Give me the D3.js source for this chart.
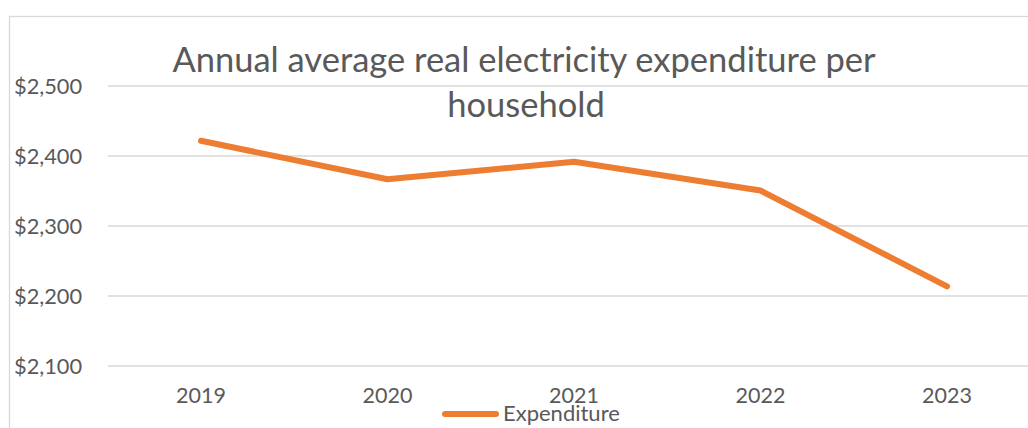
<!DOCTYPE html>
<html>
<head>
<meta charset="utf-8">
<script src="https://cdn.jsdelivr.net/npm/d3@7"></script>
<style>
  html, body { margin: 0; padding: 0; background: #fff; }
  svg { display: block; }
</style>
</head>
<body>
<svg id="chart" width="1028" height="428"></svg>
<script>
// Annual average real electricity expenditure per household
const years = ["2019", "2020", "2021", "2022", "2023"];
const expenditure = [2421, 2366, 2391, 2350, 2213];
const yTicks = [2100, 2200, 2300, 2400, 2500];
const titleLines = ["Annual average real electricity expenditure per", "household"];
const seriesName = "Expenditure";

const W = 1028, H = 428;
const font = "Lato, 'Open Sans', sans-serif";
const textColor = "#595959";
const gridColor = "#d9d9d9";
const lineColor = "#ED7D31";

const svg = d3.select("#chart");

// outer chart frame (extends past the visible area on right and bottom)
svg.append("rect")
  .attr("x", 9.5).attr("y", 16.5)
  .attr("width", W + 20).attr("height", H + 20)
  .attr("fill", "#fff")
  .attr("stroke", gridColor).attr("stroke-width", 1.3);

const plot = { left: 107.75, right: 1040.25, top: 85.5, bottom: 365.5 };

const x = d3.scaleBand().domain(years).range([plot.left, plot.right]);
const y = d3.scaleLinear().domain([2100, 2500]).range([plot.bottom, plot.top]);

// gridlines + y labels
const yAxis = d3.axisLeft(y)
  .tickValues(yTicks)
  .tickSize(-(plot.right - plot.left))
  .tickPadding(0)
  .tickFormat(d => "$" + d3.format(",")(d));

const gy = svg.append("g")
  .attr("transform", `translate(${plot.left},0)`)
  .call(yAxis);
gy.select(".domain").remove();
gy.selectAll(".tick line")
  .attr("stroke", gridColor).attr("stroke-width", 1.5);
gy.selectAll(".tick text")
  .attr("x", 14 - plot.left)
  .attr("text-anchor", "start")
  .attr("dy", "0.36em")
  .attr("fill", textColor)
  .style("font-family", font)
  .style("font-size", "21.8px");

// x labels
const xAxis = d3.axisBottom(x).tickSize(0).tickPadding(0);
const gx = svg.append("g")
  .attr("transform", `translate(0,${plot.bottom})`)
  .call(xAxis);
gx.select(".domain").remove();
gx.selectAll(".tick text")
  .attr("y", 37)
  .attr("dy", 0)
  .attr("fill", textColor)
  .style("font-family", font)
  .style("font-size", "21.5px");

// series line
const line = d3.line()
  .x((d, i) => x(years[i]) + x.bandwidth() / 2)
  .y(d => y(d));

svg.append("path")
  .datum(expenditure)
  .attr("d", line)
  .attr("fill", "none")
  .attr("stroke", lineColor)
  .attr("stroke-width", 6)
  .attr("stroke-linecap", "round")
  .attr("stroke-linejoin", "round");

// title
const title = svg.append("text")
  .attr("fill", textColor)
  .style("font-family", font)
  .style("font-size", "34.5px")
  .attr("text-anchor", "middle");
title.append("tspan").attr("x", 524).attr("y", 71.5).text(titleLines[0]);
title.append("tspan").attr("x", 526).attr("y", 117).text(titleLines[1]);

// legend
const lg = svg.append("g");
lg.append("line")
  .attr("x1", 445).attr("x2", 496)
  .attr("y1", 414).attr("y2", 414)
  .attr("stroke", lineColor).attr("stroke-width", 6)
  .attr("stroke-linecap", "round");
lg.append("text")
  .attr("x", 503).attr("y", 421)
  .attr("fill", textColor)
  .style("font-family", font)
  .style("font-size", "22px")
  .text(seriesName);
</script>
</body>
</html>
